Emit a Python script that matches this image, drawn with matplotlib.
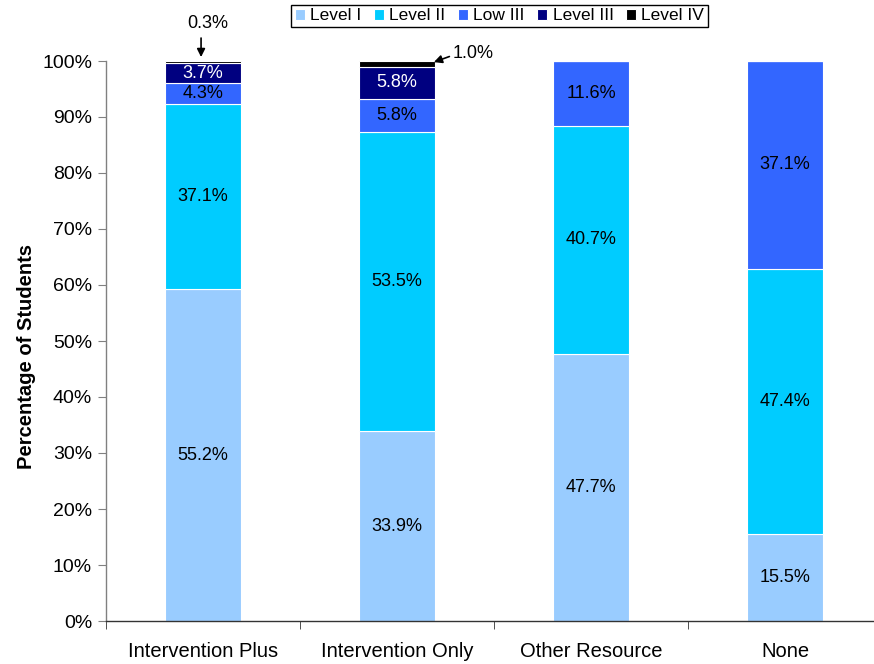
import matplotlib
matplotlib.use("Agg")
import matplotlib.pyplot as plt
import numpy as np

plt.rcParams['font.family'] = ['Liberation Sans', 'DejaVu Sans']

categories = ["Intervention Plus", "Intervention Only", "Other Resource", "None"]
series_names = ["Level I", "Level II", "Low III", "Level III", "Level IV"]

# segment heights (percent) as drawn
level1 = [59.2, 33.9, 47.7, 15.5]
level2 = [33.2, 53.5, 40.7, 47.4]
low3 = [3.6, 5.8, 11.6, 37.1]
level3 = [3.7, 5.8, 0.0, 0.0]
level4 = [0.3, 1.0, 0.0, 0.0]

# printed data labels
level1_labels = ["55.2%", "33.9%", "47.7%", "15.5%"]
level2_labels = ["37.1%", "53.5%", "40.7%", "47.4%"]
low3_labels = ["4.3%", "5.8%", "11.6%", "37.1%"]
level3_labels = ["3.7%", "5.8%", "", ""]
level4_labels = ["0.3%", "1.0%", "", ""]

colors = ["#99CCFF", "#00CCFF", "#3366FF", "#000080", "#000000"]
label_colors = ["black", "black", "black", "white", "black"]

fig = plt.figure(figsize=(8.74, 6.64), dpi=100)
ax = fig.add_axes([106/874, 1 - 621/664, 776/874, 560/664])

x = np.arange(len(categories))
series = [level1, level2, low3, level3, level4]
labels = [level1_labels, level2_labels, low3_labels, level3_labels, level4_labels]
bottom = np.zeros(len(categories))
handles = []
for i, (vals, name) in enumerate(zip(series, series_names)):
    vals = np.array(vals)
    bars = ax.bar(x, vals, width=0.39, bottom=bottom, color=colors[i],
                  edgecolor="white", linewidth=0.8, label=name)
    handles.append(bars)
    if i < 4:
        for j, v in enumerate(vals):
            if labels[i][j]:
                ax.text(x[j], bottom[j] + v / 2, labels[i][j], ha="center", va="center",
                        fontsize=13, color=label_colors[i])
    bottom = bottom + vals

# small-segment call-outs
arrow_kw = dict(arrowstyle="-|>", color="black", lw=1.2, mutation_scale=12,
                shrinkA=0, shrinkB=0)
ax.annotate("", xy=(x[0] - 0.01, 100.7), xytext=(x[0] - 0.01, 104.1),
            arrowprops=arrow_kw, annotation_clip=False)
ax.text(x[0] + 0.026, 106.7, level4_labels[0], ha="center", va="center", fontsize=13,
        clip_on=False)
ax.annotate("", xy=(x[1] + 0.19, 99.8), xytext=(x[1] + 0.27, 100.8),
            arrowprops=arrow_kw, annotation_clip=False)
ax.text(x[1] + 0.285, 101.4, level4_labels[1], ha="left", va="center", fontsize=13,
        clip_on=False)

ax.set_xlim(-0.5, 3.5)
ax.set_ylim(0, 100)
ax.set_yticks(np.arange(0, 101, 10))
ax.set_yticklabels([f"{v}%" for v in range(0, 101, 10)], fontsize=14)
ax.set_xticks(x)
ax.set_xticklabels(categories, fontsize=14.5)
ax.set_xticks([-0.5, 0.5, 1.5, 2.5, 3.5], minor=True)
ax.tick_params(axis="x", which="major", length=0, pad=15)
ax.tick_params(axis="x", which="minor", length=6, color="#333333", direction="out")
ax.tick_params(axis="y", length=6, color="#808080", pad=4)

for s in ["top", "right"]:
    ax.spines[s].set_visible(False)
ax.spines["left"].set_color("#808080")
ax.spines["bottom"].set_color("#333333")
ax.spines["left"].set_linewidth(1)
ax.spines["bottom"].set_linewidth(1)

ax.set_ylabel("Percentage of Students", fontsize=14.5, fontweight="bold")
ax.yaxis.set_label_coords(-0.09, 0.472)

leg = fig.legend(handles=handles, labels=series_names, loc="upper center",
                 bbox_to_anchor=(499.5/874, 1 - 5/664), ncol=5, fontsize=12.5,
                 frameon=True, fancybox=False, edgecolor="black", framealpha=1,
                 handlelength=0.6, handleheight=0.6, handletextpad=0.3,
                 columnspacing=0.7, borderpad=0.2, borderaxespad=0)
leg.get_frame().set_linewidth(1)

fig.savefig("out.png", dpi=100)
